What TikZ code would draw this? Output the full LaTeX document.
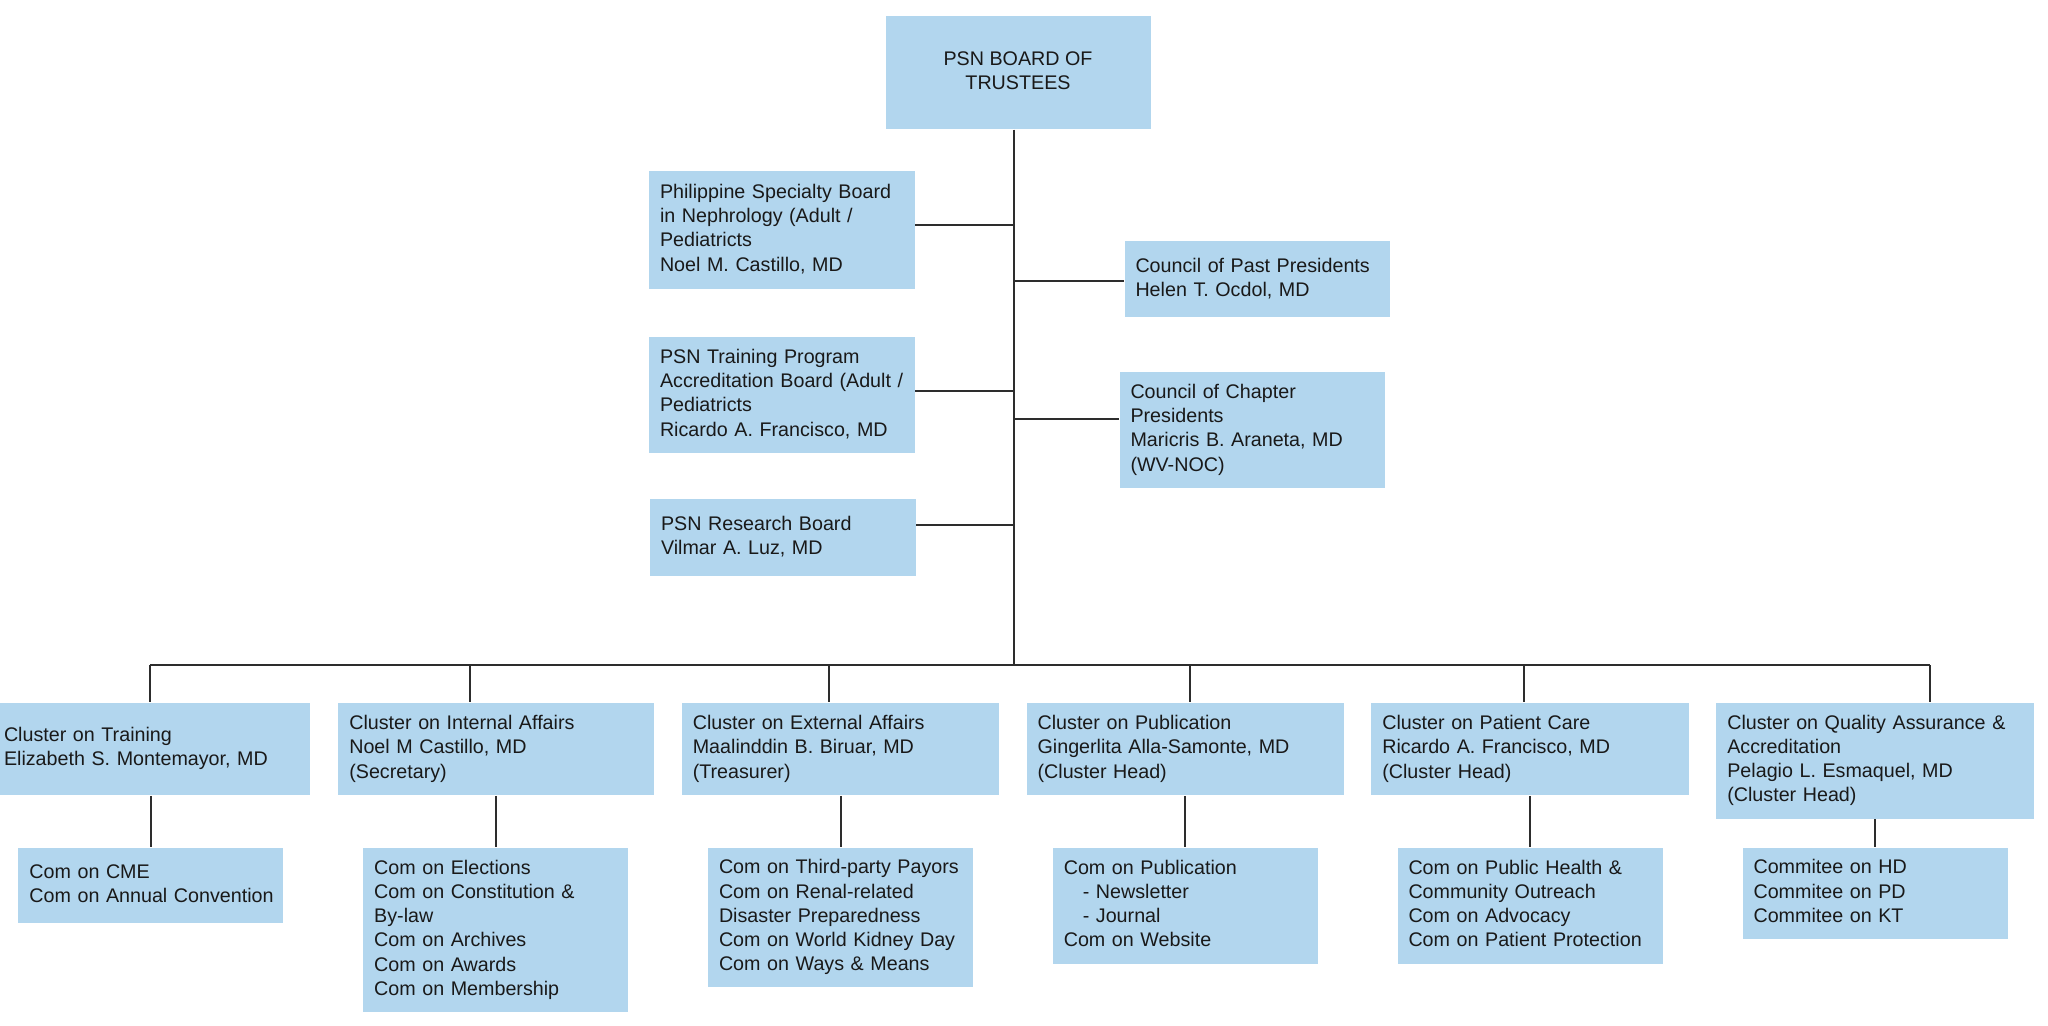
\documentclass[tikz,border=0pt]{standalone}
\usepackage{fontspec}
\setmainfont{Liberation Sans}
\definecolor{boxblue}{RGB}{178,214,238}
\definecolor{linegray}{RGB}{45,45,45}
\newcommand{\lines}[1]{\begin{tabular}{@{}l@{}}#1\end{tabular}}
\begin{document}
\begin{tikzpicture}[x=0.5pt,y=-0.5pt,
  box/.style={rectangle,fill=boxblue,draw=none,inner xsep=5.5pt,inner ysep=0pt,
    font=\fontsize{9.85}{12.1}\selectfont,text=black!90},
  conn/.style={draw=linegray,line width=1pt}]
\useasboundingbox (0,0) rectangle (2048,1026);

% top
\node[box,minimum width=132.5pt,minimum height=56.8pt,align=center] (top) at (1018,72.5)
  {\begin{tabular}{@{}c@{}}PSN BOARD OF\\TRUSTEES\end{tabular}};

% left boards
\node[box,text width=122pt,minimum height=59pt] (psb) at (782,230)
  {\lines{Philippine Specialty Board\\in Nephrology (Adult /\\Pediatricts\\Noel M. Castillo, MD}};
\node[box,text width=122pt,minimum height=58pt] (tpab) at (782,395)
  {\lines{PSN Training Program\\Accreditation Board (Adult /\\Pediatricts\\Ricardo A. Francisco, MD}};
\node[box,text width=122pt,minimum height=38.5pt] (res) at (783,537.5)
  {\lines{PSN Research Board\\Vilmar A. Luz, MD}};

% right councils
\node[box,text width=121.5pt,minimum height=38pt] (cpp) at (1257,279.5)
  {\lines{Council of Past Presidents\\Helen T. Ocdol, MD}};
\node[box,text width=121.5pt,minimum height=58pt] (ccp) at (1252,430)
  {\lines{Council of Chapter\\Presidents\\Maricris B. Araneta, MD\\(WV-NOC)}};

% clusters
\node[box,text width=147.25pt,minimum height=46.35pt] (c1) at (151.25,749)
  {\lines{Cluster on Training\\Elizabeth S. Montemayor, MD}};
\node[box,text width=147pt,minimum height=46.35pt] (c2) at (496.3,749)
  {\lines{Cluster on Internal Affairs\\Noel M Castillo, MD\\(Secretary)}};
\node[box,text width=147.7pt,minimum height=46.35pt] (c3) at (840.5,749)
  {\lines{Cluster on External Affairs\\Maalinddin B. Biruar, MD\\(Treasurer)}};
\node[box,text width=147.7pt,minimum height=46.35pt] (c4) at (1185.3,749)
  {\lines{Cluster on Publication\\Gingerlita Alla-Samonte, MD\\(Cluster Head)}};
\node[box,text width=147.7pt,minimum height=46.35pt] (c5) at (1530,749)
  {\lines{Cluster on Patient Care\\Ricardo A. Francisco, MD\\(Cluster Head)}};
\node[box,text width=147.7pt,minimum height=58.15pt] (c6) at (1875,760.8)
  {\lines{Cluster on Quality Assurance \&\\Accreditation\\Pelagio L. Esmaquel, MD\\(Cluster Head)}};

% committees
\node[box,text width=121.5pt,minimum height=37.9pt] (s1) at (150.9,885.5)
  {\lines{Com on CME\\Com on Annual Convention}};
\node[box,text width=121.5pt,minimum height=82.3pt] (s2) at (495.7,929.9)
  {\lines{Com on Elections\\Com on Constitution \&\\By-law\\Com on Archives\\Com on Awards\\Com on Membership}};
\node[box,text width=121.5pt,minimum height=69.9pt] (s3) at (840.5,917.5)
  {\lines{Com on Third-party Payors\\Com on Renal-related\\Disaster Preparedness\\Com on World Kidney Day\\Com on Ways \& Means}};
\node[box,text width=121.5pt,minimum height=58.15pt] (s4) at (1185.3,905.75)
  {\lines{Com on Publication\\\hspace*{9.5pt}- Newsletter\\\hspace*{9.5pt}- Journal\\Com on Website}};
\node[box,text width=121.5pt,minimum height=58.15pt] (s5) at (1530,905.75)
  {\lines{Com on Public Health \&\\Community Outreach\\Com on Advocacy\\Com on Patient Protection}};
\node[box,text width=121.5pt,minimum height=45.75pt] (s6) at (1875,893.35)
  {\lines{Commitee on HD\\Commitee on PD\\Commitee on KT}};

% trunk and bar
\coordinate (trunk) at (1014,129);
\coordinate (join) at (1014,665);
\draw[conn] (top.south -| trunk) -- (join);

\coordinate (p1) at ([yshift=2.5pt]psb.east);
\coordinate (p2) at ([yshift=2.25pt]tpab.east);
\coordinate (p3) at ([yshift=6.25pt]res.east);
\coordinate (q1) at ([yshift=-0.65pt]cpp.west);
\coordinate (q2) at ([yshift=5.35pt]ccp.west);
\foreach \p in {p1,p2,p3,q1,q2} \draw[conn] (\p) -- (\p -| trunk);

\coordinate (d1) at (150,665);
\coordinate (d2) at (470,665);
\coordinate (d3) at (829.4,665);
\coordinate (d4) at (1189.9,665);
\coordinate (d5) at (1524.2,665);
\coordinate (d6) at (1930.4,665);
\draw[conn] (d1) -- (d6);
\foreach \i in {1,...,6} \draw[conn] (d\i) -- (d\i |- c\i.north);
\foreach \i in {1,...,6} \draw[conn] (c\i.south) -- (c\i.south |- s\i.north);
\end{tikzpicture}
\end{document}
